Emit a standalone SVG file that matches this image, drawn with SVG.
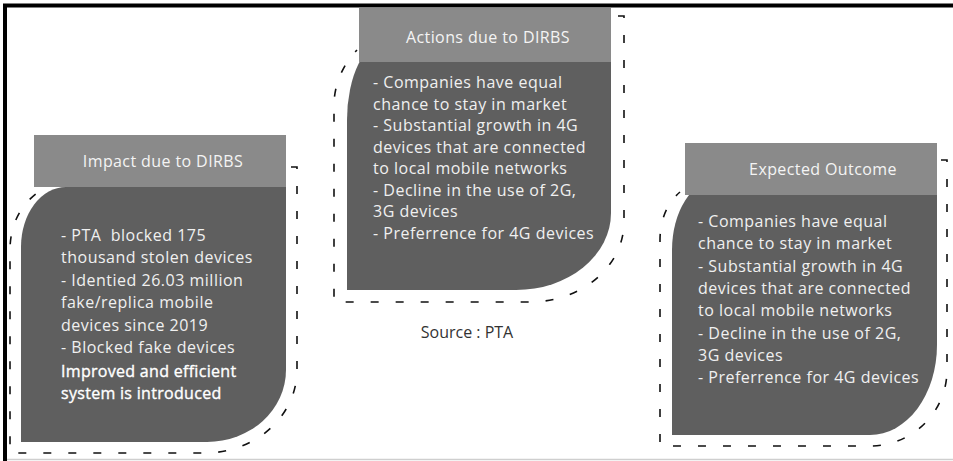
<svg xmlns="http://www.w3.org/2000/svg" width="953" height="461" viewBox="0 0 953 461">
<style>
.hdr{fill:#8a8a8a}
.body{fill:#5f5f5f}
.dash{fill:none;stroke:#111;stroke-width:1.6;stroke-dasharray:8 17}
.ht{font-family:"Open Sans","Noto Sans",sans-serif;font-size:16px;fill:#f4f4f4;text-anchor:middle;letter-spacing:0.4px}
.bt{font-family:"Open Sans","Noto Sans",sans-serif;font-size:16px;fill:#f0f0f0;letter-spacing:0.5px}
.bb{font-family:"Open Sans","Noto Sans",sans-serif;font-size:16px;fill:#ffffff;stroke:#ffffff;stroke-width:0.35px;letter-spacing:0.3px}
.src{font-family:"Open Sans","Noto Sans",sans-serif;font-size:16px;fill:#333;text-anchor:middle}
</style>
<rect width="953" height="461" fill="#fff"/>
<g id="frame">
<path d="M5,461 L5,5.5 L953,5.5" fill="none" stroke="#000" stroke-width="4"/>
<line x1="7" y1="459.5" x2="953" y2="459.5" stroke="#cfcfcf" stroke-width="1.5"/>
</g>
<g id="connectors">
<path class="dash" d="M291,167 L297,167 L297,370 A92,83 0 0 1 205,453 L10,453 L10,250 C10,220 25,198 48,186"/>
<path class="dash" d="M618,16 L624,16 L624,222 A94,80 0 0 1 530,302 L334,302 L334,105 C334,85 343,64 357,50"/>
<path class="dash" d="M941,160 L947,160 L947,370 A77,76 0 0 1 870,446 L660,446 L660,240 C660,220 667,203 680,192"/>
</g>
<g id="impact">
<path class="body" d="M66,187 L286,187 L286,370 A79,72 0 0 1 207,442 L21,442 L21,247 A45,60 0 0 1 66,187 Z"/>
<rect class="hdr" x="34" y="135" width="252" height="52"/>
<text class="ht" x="163" y="167">Impact due to DIRBS</text>
<text class="bt" x="61" y="241" xml:space="preserve">- PTA  blocked 175</text>
<text class="bt" x="61" y="263">thousand stolen devices</text>
<text class="bt" x="61" y="286">- Identied 26.03 million</text>
<text class="bt" x="61" y="308">fake/replica mobile</text>
<text class="bt" x="61" y="331">devices since 2019</text>
<text class="bt" x="61" y="353">- Blocked fake devices</text>
<text class="bb" x="61" y="377">Improved and efficient</text>
<text class="bb" x="61" y="399">system is introduced</text>
</g>
<g id="actions">
<path class="body" d="M387,40 L611,40 L611,213 A95,77 0 0 1 516,290 L347,290 L347,120 A40,80 0 0 1 387,40 Z"/>
<rect class="hdr" x="359" y="8" width="252" height="54"/>
<text class="ht" x="488" y="43">Actions due to DIRBS</text>
<text class="bt" x="373" y="88">- Companies have equal</text>
<text class="bt" x="373" y="109.5">chance to stay in market</text>
<text class="bt" x="373" y="131">- Substantial growth in 4G</text>
<text class="bt" x="373" y="152.5">devices that are connected</text>
<text class="bt" x="373" y="174">to local mobile networks</text>
<text class="bt" x="373" y="195.5">- Decline in the use of 2G,</text>
<text class="bt" x="373" y="217">3G devices</text>
<text class="bt" x="373" y="238.5">- Preferrence for 4G devices</text>
</g>
<g id="outcome">
<path class="body" d="M717,180 L937,180 L937,345 A67,90 0 0 1 870,435 L672,435 L672,250 A45,70 0 0 1 717,180 Z"/>
<rect class="hdr" x="685" y="143" width="252" height="52"/>
<text class="ht" x="823" y="175">Expected Outcome</text>
<text class="bt" x="698" y="227">- Companies have equal</text>
<text class="bt" x="698" y="249">chance to stay in market</text>
<text class="bt" x="698" y="271.5">- Substantial growth in 4G</text>
<text class="bt" x="698" y="294">devices that are connected</text>
<text class="bt" x="698" y="316">to local mobile networks</text>
<text class="bt" x="698" y="338.5">- Decline in the use of 2G,</text>
<text class="bt" x="698" y="361">3G devices</text>
<text class="bt" x="698" y="383">- Preferrence for 4G devices</text>
</g>
<g id="source">
<text class="src" x="467" y="338">Source : PTA</text>
</g>
</svg>
